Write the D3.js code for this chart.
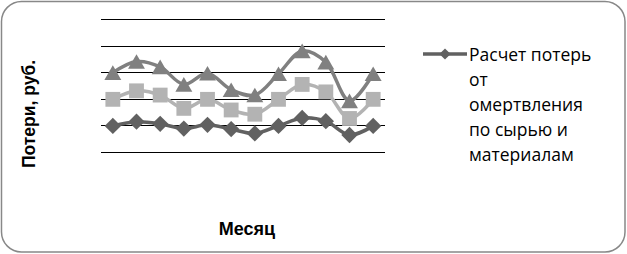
<!DOCTYPE html>
<html>
<head>
<meta charset="utf-8">
<script src="https://cdn.jsdelivr.net/npm/d3@7"></script>
<style>
  body { margin: 0; background: #fff; }
  svg { display: block; }
</style>
</head>
<body>
<div id="chart"></div>
<script>
// months of the year, no tick labels shown in the picture
var months = ["Янв", "Фев", "Мар", "Апр", "Май", "Июн", "Июл", "Авг", "Сен", "Окт", "Ноя", "Дек"];

// three series
var rawLoss = [49, 57, 53, 44, 51, 43, 35, 49, 64, 58, 32, 49];
var midLoss = [99, 115, 107, 82, 99, 79, 71, 99, 127, 113, 63, 99];
var topLoss = [149, 170, 160, 127, 148, 117, 107, 147, 190, 169, 96, 147];

var gridTicks = [0, 50, 100, 150, 200, 250];
var legendLines = ["Расчет потерь", "от", "омертвления", "по сырью и", "материалам"];

var width = 627, height = 254;

var svg = d3.select("#chart")
    .append("svg")
    .attr("width", width)
    .attr("height", height);

// outer frame with rounded corners
svg.append("rect")
    .attr("x", 1.5)
    .attr("y", 1.5)
    .attr("width", width - 3.5)
    .attr("height", height - 3.5)
    .attr("rx", 20)
    .attr("fill", "#fff")
    .attr("stroke", "#888")
    .attr("stroke-width", 1.5);

var x = d3.scaleBand()
    .domain(months)
    .range([101, 385]);

var y = d3.scaleLinear()
    .domain([0, 250])
    .range([152, 19]);

// horizontal gridlines
svg.append("g")
    .selectAll("line")
    .data(gridTicks)
    .enter().append("line")
    .attr("x1", 101)
    .attr("x2", 385)
    .attr("y1", function (d) { return Math.round(y(d)) + 0.5; })
    .attr("y2", function (d) { return Math.round(y(d)) + 0.5; })
    .attr("stroke", "#000")
    .attr("stroke-width", 1);

var cx = function (d, i) { return x(months[i]) + x.bandwidth() / 2; };

var line = d3.line()
    .x(cx)
    .y(function (d) { return y(d); })
    .curve(d3.curveCatmullRom.alpha(0.5));

// dy moves the triangle so its box is centred on the point, like the original
var series = [
    { values: rawLoss, color: "#616161", symbol: d3.symbolDiamond2, size: 170, dy: 0 },
    { values: midLoss, color: "#b3b3b3", symbol: d3.symbolSquare2, size: 280, dy: 0 },
    { values: topLoss, color: "#808080", symbol: d3.symbolTriangle2, size: 205, dy: 2.4 }
];

series.forEach(function (s) {
    var g = svg.append("g");
    g.append("path")
        .datum(s.values)
        .attr("d", line)
        .attr("fill", "none")
        .attr("stroke", s.color)
        .attr("stroke-width", 3.5);

    g.selectAll("path.mark")
        .data(s.values)
        .enter().append("path")
        .attr("class", "mark")
        .attr("transform", function (d, i) { return "translate(" + cx(d, i) + "," + (y(d) + s.dy) + ")"; })
        .attr("d", d3.symbol().type(s.symbol).size(s.size))
        .attr("fill", s.color);
});

// axis titles
svg.append("text")
    .attr("transform", "translate(35,114) rotate(-90)")
    .attr("text-anchor", "middle")
    .attr("font-family", "Liberation Sans, Arial, sans-serif")
    .attr("font-weight", "bold")
    .attr("font-size", 17.5)
    .text("Потери, руб.");

svg.append("text")
    .attr("x", 247)
    .attr("y", 235)
    .attr("text-anchor", "middle")
    .attr("font-family", "Liberation Sans, Arial, sans-serif")
    .attr("font-weight", "bold")
    .attr("font-size", 18)
    .text("Месяц");

// legend, only the first series is shown
var legend = svg.append("g");
legend.append("line")
    .attr("x1", 423)
    .attr("x2", 467)
    .attr("y1", 54)
    .attr("y2", 54)
    .attr("stroke", "#616161")
    .attr("stroke-width", 3.5);
legend.append("path")
    .attr("transform", "translate(445,54)")
    .attr("d", d3.symbol().type(d3.symbolDiamond2).size(80))
    .attr("fill", "#616161");

legend.selectAll("text")
    .data(legendLines)
    .enter().append("text")
    .attr("x", 469)
    .attr("y", function (d, i) { return 61 + i * 25; })
    .attr("font-family", "Open Sans, sans-serif")
    .attr("font-size", 17.5)
    .attr("fill", "#000")
    .text(function (d) { return d; });
</script>
</body>
</html>
